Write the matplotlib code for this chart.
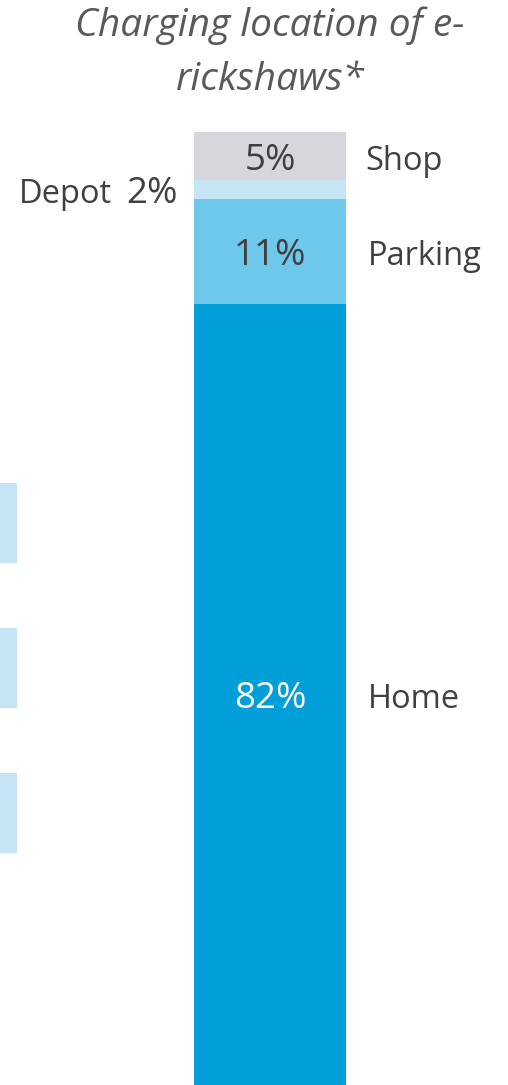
import matplotlib
matplotlib.use("Agg")
import matplotlib.pyplot as plt

# ── data ─────────────────────────────────────────────
locations = ["Home", "Parking", "Depot", "Shop"]
shares = [82, 11, 2, 5]
colors = ["#009FDA", "#6EC8EC", "#C5E5F5", "#D6D6DC"]
title_lines = ["Charging location of e-", "rickshaws*"]
# bars of the neighbouring chart, cut off at the left edge
side_bars = [1, 1, 1]

plt.rcParams["font.family"] = ["Open Sans", "DejaVu Sans"]
TXT = "#404040"
NUM_FS = 26.5
LAB_FS = 23.5
DY = -10  # baseline offset (points) below segment middle

fig = plt.figure(figsize=(5.08, 10.85), dpi=100)

# stacked bar
ax = fig.add_axes([194 / 508, 0, 152 / 508, 953 / 1085])
bottom = 0
for loc, val, col in zip(locations, shares, colors):
    ax.bar(0, val, bottom=bottom, width=1, color=col, edgecolor="none")
    mid = bottom + val / 2
    if loc == "Depot":
        ax.annotate(f"{val}%", (-0.5, mid), xytext=(-11.5, DY), textcoords="offset points",
                    ha="right", va="baseline", color=TXT, fontsize=NUM_FS)
        ax.annotate(loc, (-0.5, mid), xytext=(-59, DY), textcoords="offset points",
                    ha="right", va="baseline", color=TXT, fontsize=LAB_FS)
    else:
        ax.annotate(f"{val}%", (0, mid), xytext=(0, DY), textcoords="offset points",
                    ha="center", va="baseline", fontsize=NUM_FS,
                    color="white" if loc == "Home" else TXT)
        ax.annotate(loc, (0.5, mid), xytext=(14 if loc == "Shop" else 15.5, DY),
                    textcoords="offset points", ha="left", va="baseline",
                    color=TXT, fontsize=LAB_FS)
    bottom += val
ax.set_xlim(-0.5, 0.5)
ax.set_ylim(0, 100)
ax.axis("off")

# fragments of the neighbouring chart
ax2 = fig.add_axes([0, 199.5 / 1085, 17 / 508, 435 / 1085])
ax2.barh(range(len(side_bars)), side_bars, height=80 / 145, color="#C5E5F5", edgecolor="none")
ax2.set_xlim(0, 1)
ax2.set_ylim(2.5, -0.5)
ax2.axis("off")

for line, y in zip(title_lines, [1 - 36 / 1085, 1 - 90 / 1085]):
    fig.text(270 / 508, y, line, ha="center", va="baseline", style="italic",
             color="#595959", fontsize=28)

fig.savefig("out.png", dpi=100)
